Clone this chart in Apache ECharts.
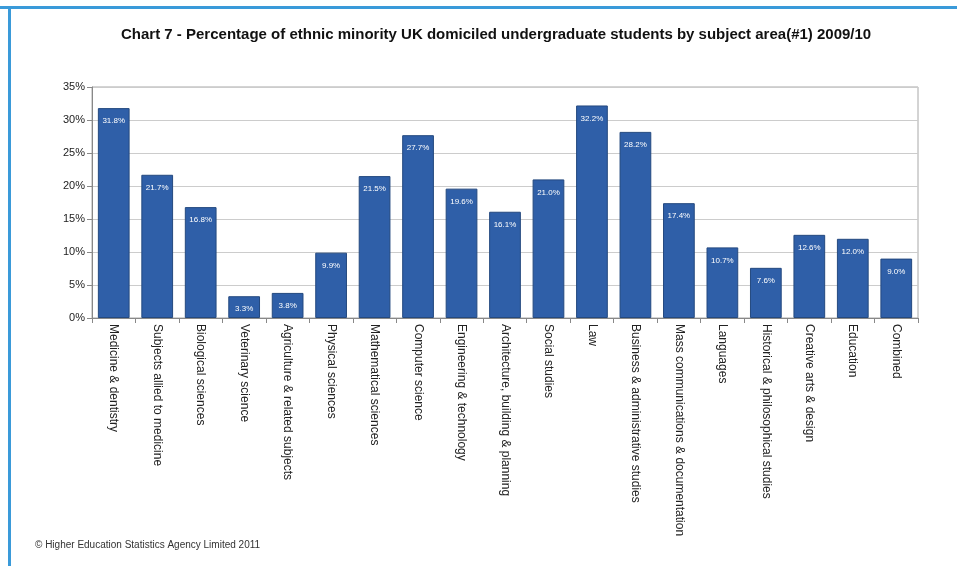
<!DOCTYPE html>
<html><head><meta charset="utf-8">
<script src="https://cdn.jsdelivr.net/npm/echarts@6/dist/echarts.min.js"></script>
<style>html,body{margin:0;padding:0;background:#fff}#c{width:957px;height:566px}</style>
</head><body><div id="c"></div>
<script>
var categories = ["Medicine & dentistry","Subjects allied to medicine","Biological sciences","Veterinary science","Agriculture & related subjects","Physical sciences","Mathematical sciences","Computer science","Engineering & technology","Architecture, building & planning","Social studies","Law","Business & administrative studies","Mass communications & documentation","Languages","Historical & philosophical studies","Creative arts & design","Education","Combined"];
var values = [31.8,21.7,16.8,3.3,3.8,9.9,21.5,27.7,19.6,16.1,21.0,32.2,28.2,17.4,10.7,7.6,12.6,12.0,9.0];
var yTicks = [0,5,10,15,20,25,30,35];
var titleText = "Chart 7 - Percentage of ethnic minority UK domiciled undergraduate students by subject area(#1) 2009/10";
var footText = "© Higher Education Statistics Agency Limited 2011";

var chart = echarts.init(document.getElementById('c'), null, {renderer:'canvas'});
chart.setOption({
  backgroundColor:'#ffffff',
  animation:false,
  title:{text:titleText,left:116,top:22,textStyle:{fontFamily:'Liberation Sans, Arial',fontSize:15,fontWeight:'bold',color:'#111'}},
  graphic:[
    {type:'rect',shape:{x:0,y:6,width:957,height:3},style:{fill:'#3a9ad9'}},
    {type:'rect',shape:{x:8,y:6,width:3,height:560},style:{fill:'#3a9ad9'}},
    {type:'text',left:35,top:540,style:{text:footText,fontFamily:'Liberation Sans, Arial',fontSize:10,fill:'#333'}}
  ],
  grid:{left:92,right:39,top:87,bottom:248,show:true,borderColor:'#a8a8a8',borderWidth:1},
  xAxis:{type:'category',data:categories,
    axisLine:{lineStyle:{color:'#888'}},axisTick:{show:true,alignWithLabel:false,lineStyle:{color:'#888'}},
    axisLabel:{rotate:-90,interval:0,fontFamily:'Liberation Sans, Arial',fontSize:12,color:'#222',margin:6}},
  yAxis:{type:'value',min:yTicks[0],max:yTicks[yTicks.length-1],interval:5,
    axisLine:{show:true,lineStyle:{color:'#888'}},axisTick:{show:true,lineStyle:{color:'#888'}},
    splitLine:{lineStyle:{color:'#cccccc'}},
    axisLabel:{formatter:function(v){return v+'%';},fontFamily:'Liberation Sans, Arial',fontSize:11,color:'#222',margin:7}},
  series:[{type:'bar',data:values,barWidth:'73%',
    itemStyle:{color:'#2f5fa8',borderColor:'#24497f',borderWidth:1},
    label:{show:true,position:'insideTop',offset:[0,4],formatter:function(p){return p.value.toFixed(1)+'%';},color:'#fff',fontFamily:'Liberation Sans, Arial',fontSize:8}}]
});
</script></body></html>
